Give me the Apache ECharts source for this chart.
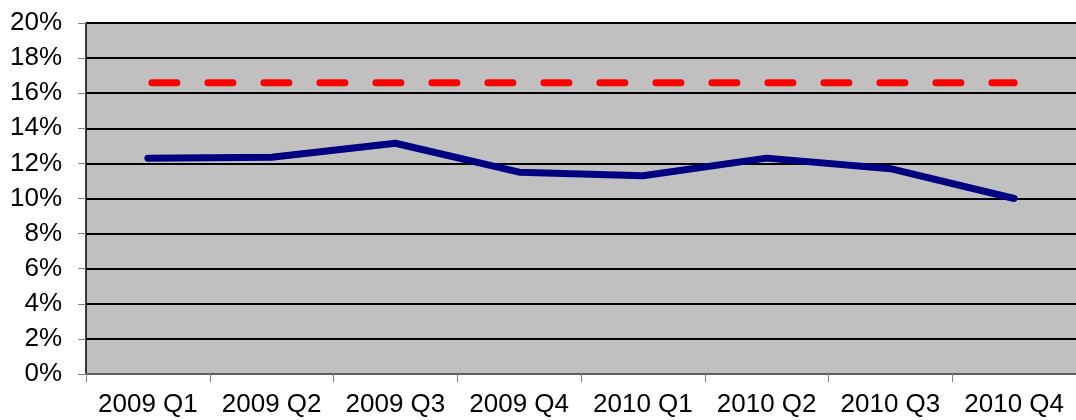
<!DOCTYPE html>
<html>
<head>
<meta charset="utf-8">
<script src="https://cdn.jsdelivr.net/npm/echarts@6/dist/echarts.min.js"></script>
<style>
  html, body { margin: 0; padding: 0; background: #fff; }
  #chart { width: 1076px; height: 420px; }
</style>
</head>
<body>
<div id="chart"></div>
<script>
var categories = ['2009 Q1', '2009 Q2', '2009 Q3', '2009 Q4', '2010 Q1', '2010 Q2', '2010 Q3', '2010 Q4'];
var actual = [12.3, 12.35, 13.15, 11.5, 11.3, 12.3, 11.7, 10.0];
var target = [16.6, 16.6, 16.6, 16.6, 16.6, 16.6, 16.6, 16.6];

var option = {
    animation: false,
    backgroundColor: '#fff',
    grid: {
        left: 86,
        right: -2,
        top: 23,
        bottom: 46,
        show: true,
        backgroundColor: '#c0c0c0',
        borderWidth: 0
    },
    xAxis: {
        type: 'category',
        data: categories,
        boundaryGap: true,
        axisLine: { lineStyle: { color: '#808080', width: 1.5 } },
        axisTick: { show: true, length: 8, lineStyle: { color: '#808080' } },
        axisLabel: {
            color: '#000',
            fontFamily: 'Liberation Sans',
            fontSize: 26,
            margin: 18,
            interval: 0
        },
        splitLine: { show: false }
    },
    yAxis: {
        type: 'value',
        min: 0,
        max: 20,
        interval: 2,
        axisLine: { show: true, lineStyle: { color: '#000', width: 1.5 } },
        axisTick: { show: true, length: 8, lineStyle: { color: '#808080' } },
        axisLabel: {
            color: '#000',
            fontFamily: 'Liberation Sans',
            fontSize: 26,
            margin: 24,
            formatter: '{value}%'
        },
        splitLine: { show: true, lineStyle: { color: '#000', width: 2 } }
    },
    series: [
        {
            name: 'target',
            type: 'line',
            data: target,
            symbol: 'none',
            lineStyle: {
                color: '#ff0000',
                width: 7,
                type: [25, 31],
                dashOffset: -4,
                cap: 'round'
            },
            z: 3
        },
        {
            name: 'actual',
            type: 'line',
            data: actual,
            symbol: 'none',
            lineStyle: {
                color: '#000080',
                width: 7,
                cap: 'round',
                join: 'round'
            },
            z: 4
        }
    ]
};

echarts.init(document.getElementById('chart')).setOption(option);
</script>
</body>
</html>
